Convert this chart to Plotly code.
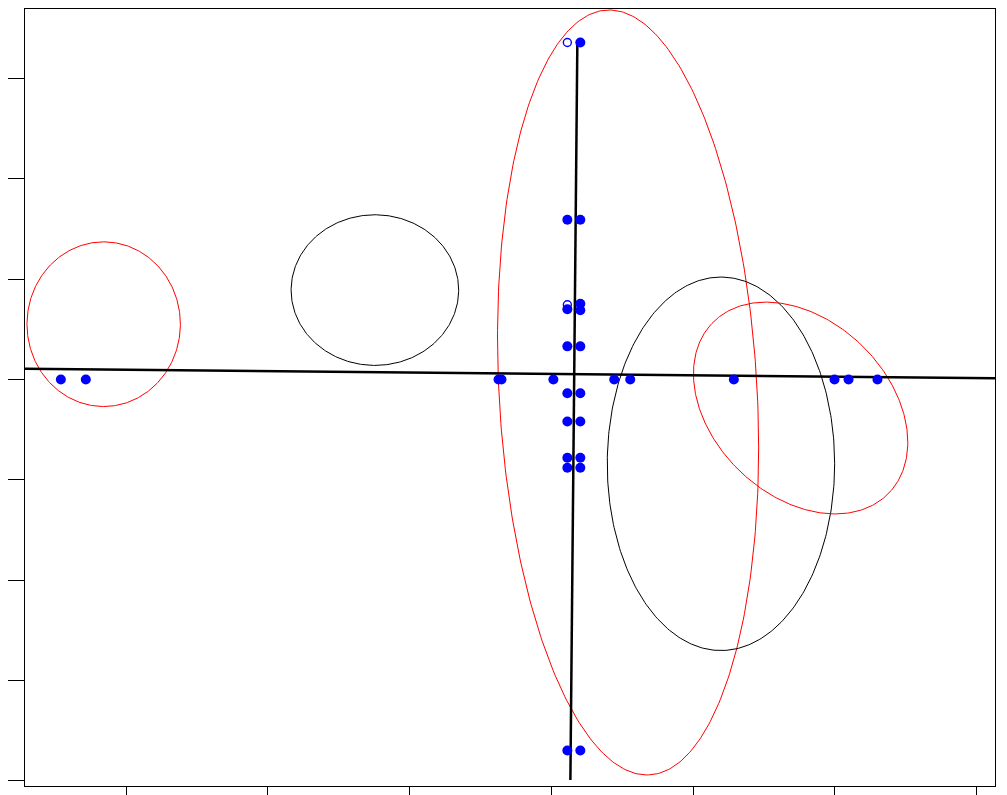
import numpy as np
import plotly.graph_objects as go

# ------------------------------------------------------------------
# data (axes carry no labels)
# ------------------------------------------------------------------
row_x = [-3.46, -3.284, -0.373, -0.352, 0.014, 0.443, 0.556, 1.287, 1.997, 2.096, 2.30]
row_y = [0, 0, 0, 0, 0, 0, 0, 0, 0, 0, 0]

col_left_x = [0.204, 0.1125, 0.1125, 0.1125, 0.1125, 0.1125, 0.1125, 0.1125, 0.1125]
col_left_y = [3.36, 1.592, 0.70, 0.33, -0.137, -0.42, -0.78, -0.88, -3.70]
col_right_x = [0.204, 0.204, 0.204, 0.204, 0.204, 0.204, 0.204, 0.204, 0.204]
col_right_y = [1.592, 0.755, 0.69, 0.33, -0.137, -0.42, -0.78, -0.88, -3.70]

open_x = [0.1125, 0.1125]
open_y = [3.36, 0.745]

# fitted axes (two end points each)
axis_h_x = [-3.75, 3.2]
axis_h_y = [0.107, 0.012]
axis_v_x = [0.183, 0.134]
axis_v_y = [3.353, -3.994]

# ellipses: centre x, centre y, sd x, sd y, correlation, colour
ell_cx = [-3.158, -1.245, 0.541, 1.196, 1.758]
ell_cy = [0.551, 0.891, -0.130, -0.841, -0.285]
ell_sx = [0.541, 0.591, 0.921, 0.802, 0.756]
ell_sy = [0.821, 0.751, 3.814, 1.862, 1.056]
ell_rho = [0.0, 0.0, -0.145, 0.0, -0.3236]
ell_col = ["red", "black", "red", "black", "red"]

x_ticks = [-3, -2, -1, 0, 1, 2, 3]
y_ticks = [-4, -3, -2, -1, 0, 1, 2, 3]

fig = go.Figure()

# ellipses
t = np.linspace(0, 2 * np.pi, 361)
for cx, cy, sx, sy, rho, col in zip(ell_cx, ell_cy, ell_sx, ell_sy, ell_rho, ell_col):
    ex = cx + sx * np.cos(t)
    ey = cy + sy * (rho * np.cos(t) + np.sqrt(1 - rho ** 2) * np.sin(t))
    fig.add_trace(go.Scatter(x=ex, y=ey, mode="lines",
                             line=dict(color=col, width=1), hoverinfo="skip"))

# axes lines
fig.add_trace(go.Scatter(x=axis_h_x, y=axis_h_y, mode="lines",
                         line=dict(color="black", width=2.5), hoverinfo="skip"))
fig.add_trace(go.Scatter(x=axis_v_x, y=axis_v_y, mode="lines",
                         line=dict(color="black", width=2.5), hoverinfo="skip"))

# points
fig.add_trace(go.Scatter(x=row_x + col_left_x + col_right_x,
                         y=row_y + col_left_y + col_right_y,
                         mode="markers",
                         marker=dict(color="#0000FF", size=10, symbol="circle")))
fig.add_trace(go.Scatter(x=open_x, y=open_y, mode="markers",
                         marker=dict(color="#0000FF", size=8, symbol="circle-open",
                                     line=dict(width=1.4))))

fig.update_xaxes(range=[-3.713, 3.129], tickvals=x_ticks, showticklabels=False,
                 ticks="outside", ticklen=15, tickcolor="black",
                 showline=True, mirror=True, linecolor="black", linewidth=1,
                 showgrid=False, zeroline=False)
fig.update_yaxes(range=[-4.054, 3.694], tickvals=y_ticks, showticklabels=False,
                 ticks="outside", ticklen=17, tickcolor="black",
                 showline=True, mirror=True, linecolor="black", linewidth=1,
                 showgrid=False, zeroline=False)

fig.update_layout(width=1007, height=795, showlegend=False,
                  paper_bgcolor="white", plot_bgcolor="white",
                  margin=dict(l=7, r=20, t=0, b=17))

fig.write_html("out.html")
